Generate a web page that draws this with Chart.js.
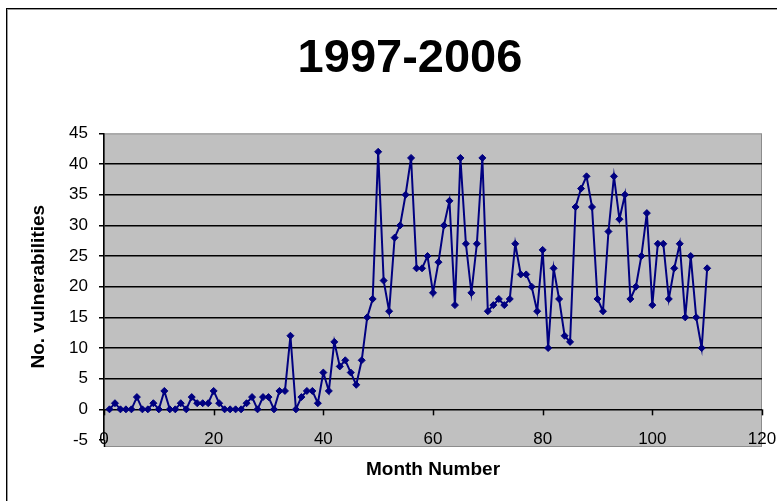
<!DOCTYPE html>
<html>
<head>
<meta charset="utf-8">
<script src="https://cdn.jsdelivr.net/npm/chart.js@4.4.1/dist/chart.umd.min.js"></script>
<style>
html, body { margin: 0; padding: 0; background: #fff; overflow: hidden; }
#wrap { position: relative; width: 777px; height: 501px; }
#frame { position: absolute; left: 6px; top: 8px; width: 900px; height: 700px; border: 1px solid #000; box-shadow: inset 1px 1px 0 #999; pointer-events: none; }
</style>
</head>
<body>
<div id="wrap">
    <canvas id="line-chart" width="777" height="501"></canvas>
    <div id="frame"></div>
</div>
<script>
// month number (x) and vulnerabilities per month (y)
const months = [
    1, 2, 3, 4, 5, 6, 7, 8, 9, 10,
    11, 12, 13, 14, 15, 16, 17, 18, 19, 20,
    21, 22, 23, 24, 25, 26, 27, 28, 29, 30,
    31, 32, 33, 34, 35, 36, 37, 38, 39, 40,
    41, 42, 43, 44, 45, 46, 47, 48, 49, 50,
    51, 52, 53, 54, 55, 56, 57, 58, 59, 60,
    61, 62, 63, 64, 65, 66, 67, 68, 69, 70,
    71, 72, 73, 74, 75, 76, 77, 78, 79, 80,
    81, 82, 83, 84, 85, 86, 87, 88, 89, 90,
    91, 92, 93, 94, 95, 96, 97, 98, 99, 100,
    101, 102, 103, 104, 105, 106, 107, 108, 109, 110
]
const vulns = [
    0, 1, 0, 0, 0, 2, 0, 0, 1, 0,
    3, 0, 0, 1, 0, 2, 1, 1, 1, 3,
    1, 0, 0, 0, 0, 1, 2, 0, 2, 2,
    0, 3, 3, 12, 0, 2, 3, 3, 1, 6,
    3, 11, 7, 8, 6, 4, 8, 15, 18, 42,
    21, 16, 28, 30, 35, 41, 23, 23, 25, 19,
    24, 30, 34, 17, 41, 27, 19, 27, 41, 16,
    17, 18, 17, 18, 27, 22, 22, 20, 16, 26,
    10, 23, 18, 12, 11, 33, 36, 38, 33, 18,
    16, 29, 38, 31, 35, 18, 20, 25, 32, 17,
    27, 27, 18, 23, 27, 15, 25, 15, 10, 23
]
const xTicks = [0, 20, 40, 60, 80, 100, 120]
const yTicks = [-5, 0, 5, 10, 15, 20, 25, 30, 35, 40, 45]

const fontFam = "'Liberation Sans', Arial, sans-serif"

// grey plot area (runs a little below -5, as in the original) + x tick marks at y = 0
const plotArea = {
    id: 'plotArea',
    beforeDraw(chart) {
        const {ctx, chartArea: a} = chart
        const extra = 7
        ctx.save()
        ctx.fillStyle = '#c0c0c0'
        ctx.fillRect(a.left, a.top, a.width, a.height + extra)
        ctx.strokeStyle = '#8c8c8c'
        ctx.lineWidth = 1
        ctx.strokeRect(a.left + 0.5, a.top + 0.5, a.width - 1, a.height + extra - 1)
        ctx.strokeStyle = '#000'
        ctx.lineWidth = 1.5
        ctx.beginPath()
        ctx.moveTo(a.left + 0.5, a.bottom)
        ctx.lineTo(a.left + 0.5, a.bottom + extra)
        ctx.stroke()
        ctx.restore()
    },
    beforeDatasetsDraw(chart) {
        const {ctx, scales: {x, y}} = chart
        const y0 = y.getPixelForValue(0)
        ctx.save()
        ctx.strokeStyle = '#000'
        ctx.lineWidth = 1.5
        xTicks.forEach(v => {
            const px = Math.round(x.getPixelForValue(v)) + 0.5
            ctx.beginPath()
            ctx.moveTo(px, y0)
            ctx.lineTo(px, y0 + 6)
            ctx.stroke()
        })
        ctx.restore()
    }
}

new Chart(document.getElementById('line-chart'), {
    type: 'line',
    data: {
        datasets: [
            {
                data: months.map((m, i) => ({x: m, y: vulns[i]})),
                borderColor: '#000080',
                backgroundColor: '#000080',
                borderWidth: 2,
                pointStyle: 'rectRot',
                pointRadius: 3.5,
                pointBorderWidth: 1,
                tension: 0,
                fill: false
            }
        ]
    },
    options: {
        responsive: false,
        animation: false,
        devicePixelRatio: 1,
        layout: { padding: { left: 58, right: 15, top: 0, bottom: 0 } },
        plugins: {
            legend: { display: false },
            tooltip: { enabled: false },
            title: {
                display: true,
                text: '1997-2006',
                color: '#000',
                font: { family: fontFam, size: 47, weight: 'bold' },
                padding: { top: 31, bottom: 46 }
            }
        },
        scales: {
            x: {
                type: 'linear',
                min: xTicks[0],
                max: xTicks[xTicks.length - 1],
                afterFit: s => { s.height = 61 },
                ticks: {
                    stepSize: xTicks[1] - xTicks[0],
                    color: '#000',
                    font: { family: fontFam, size: 17 },
                    mirror: true,
                    padding: -10,
                    maxRotation: 0
                },
                grid: { display: false, drawTicks: false },
                border: { display: false },
                title: {
                    display: true,
                    text: 'Month Number',
                    color: '#000',
                    font: { family: fontFam, size: 19, weight: 'bold' },
                    padding: { top: 0, bottom: 20 }
                }
            },
            y: {
                min: yTicks[0],
                max: yTicks[yTicks.length - 1],
                afterFit: s => { s.width = 46 },
                ticks: {
                    stepSize: yTicks[1] - yTicks[0],
                    color: '#000',
                    font: { family: fontFam, size: 17 },
                    padding: 11
                },
                grid: {
                    color: c => (c.tick && (c.tick.value === 45 || c.tick.value === -5)) ? 'rgba(0,0,0,0)' : '#000',
                    lineWidth: 1.5,
                    tickLength: 5,
                    tickColor: '#000'
                },
                border: { display: true, color: '#000', width: 1.5 },
                title: {
                    display: true,
                    text: 'No. vulnerabilities',
                    color: '#000',
                    font: { family: fontFam, size: 19, weight: 'bold' },
                    padding: { top: -31, bottom: 0 }
                }
            }
        }
    },
    plugins: [plotArea]
});
</script>
</body>
</html>
